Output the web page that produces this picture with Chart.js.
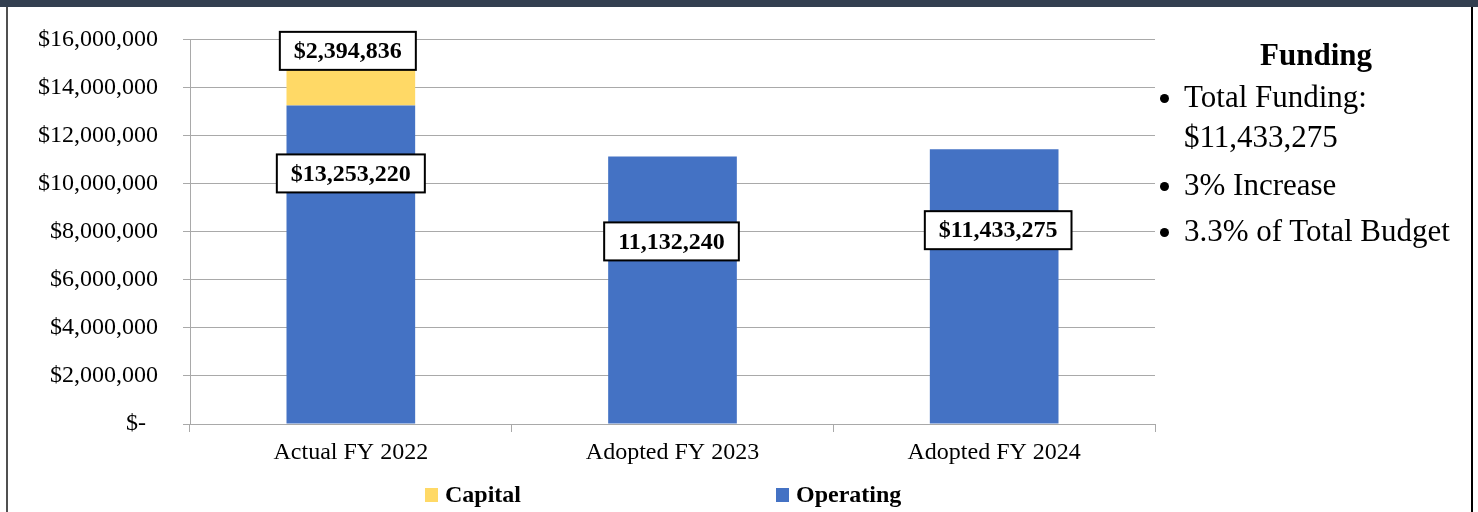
<!DOCTYPE html>
<html>
<head>
<meta charset="utf-8">
<script src="https://cdn.jsdelivr.net/npm/chart.js@4/dist/chart.umd.min.js"></script>
<style>
  html, body { margin: 0; padding: 0; background: #fff; }
  body { width: 1478px; height: 512px; position: relative; overflow: hidden;
         font-family: "Liberation Serif", "Times New Roman", serif; color: #000; }
  #topband { position: absolute; left: 0; top: 0; width: 1478px; height: 7px; background: #333f50; }
  #leftline { position: absolute; left: 6px; top: 7px; width: 2px; height: 505px; background: #505050; }
  #rightline { position: absolute; left: 1471px; top: 7px; width: 2px; height: 505px; background: #000; }
  #wrap { position: absolute; left: 0; top: 0; width: 1478px; height: 512px; }
  .side { position: absolute; font-size: 31px; line-height: 36px; white-space: nowrap; }
  .side b { font-weight: bold; }
  .dot { position: absolute; left: -24px; top: 15px; width: 9px; height: 9px; border-radius: 50%; background: #000; }
  .leg { position: absolute; top: 480px; font-size: 24px; line-height: 28px; font-weight: bold; white-space: nowrap; }
  .leg i { position: absolute; left: -20px; top: 8px; width: 13px; height: 14px; }
</style>
</head>
<body>
<div id="topband"></div>
<div id="leftline"></div>
<div id="rightline"></div>
<div id="wrap"><canvas id="chart"></canvas></div>

<div class="side" style="left:1260px; top:37px;"><b>Funding</b></div>
<div class="side" style="left:1184px; top:79px;"><span class="dot"></span>Total Funding:</div>
<div class="side" style="left:1184px; top:119px;">$11,433,275</div>
<div class="side" style="left:1184px; top:167px;"><span class="dot"></span>3% Increase</div>
<div class="side" style="left:1184px; top:213px;"><span class="dot"></span>3.3% of Total Budget</div>

<div class="leg" style="left:445px;"><i style="background:#ffd966"></i>Capital</div>
<div class="leg" style="left:796px;"><i style="background:#4472c4"></i>Operating</div>

<script>
// categories and values
const categories = ["Actual FY 2022", "Adopted FY 2023", "Adopted FY 2024"];
const operating = [13253220, 11132240, 11433275];
const capital = [2394836, null, null];
const operatingLabels = ["$13,253,220", "11,132,240", "$11,433,275"];
const capitalLabels = ["$2,394,836", null, null];

const gridGray = "#a9a9a9";
const serif = "'Liberation Serif', 'Times New Roman', serif";

// boxed value labels, placed relative to the top of each bar segment
const boxLabels = {
  id: "boxLabels",
  afterDatasetsDraw(chart) {
    const ctx = chart.ctx;
    ctx.save();
    ctx.font = "bold 24px " + serif;
    ctx.textAlign = "center";
    ctx.textBaseline = "middle";
    chart.data.datasets.forEach((ds, di) => {
      const meta = chart.getDatasetMeta(di);
      meta.data.forEach((bar, i) => {
        const txt = ds.boxText[i];
        if (!txt) return;
        const shift = ds.boxShift[i];
        const cx = bar.x + shift[0];
        const cy = bar.y + shift[1];
        const w = ctx.measureText(txt).width + 28;
        const h = 38;
        ctx.fillStyle = "#fff";
        ctx.fillRect(cx - w / 2, cy - h / 2, w, h);
        ctx.lineWidth = 2;
        ctx.strokeStyle = "#000";
        ctx.strokeRect(cx - w / 2, cy - h / 2, w, h);
        ctx.fillStyle = "#000";
        ctx.fillText(txt, cx, cy + 1);
      });
    });
    ctx.restore();
  }
};

new Chart(document.getElementById("chart"), {
  type: "bar",
  data: {
    labels: categories,
    datasets: [
      {
        label: "Operating",
        data: operating,
        backgroundColor: "#4472c4",
        boxText: operatingLabels,
        boxShift: [[0, 68], [-1, 85], [4, 81]]
      },
      {
        label: "Capital",
        data: capital,
        backgroundColor: "#ffd966",
        boxText: capitalLabels,
        boxShift: [[-3, 3], [0, 0], [0, 0]]
      }
    ]
  },
  options: {
    responsive: true,
    maintainAspectRatio: false,
    animation: false,
    categoryPercentage: 1,
    barPercentage: 0.4,
    layout: { padding: { left: 8, right: 323, top: 39, bottom: 0 } },
    plugins: {
      legend: { display: false },
      tooltip: { enabled: false }
    },
    scales: {
      x: {
        stacked: true,
        afterFit: (scale) => { scale.height = 88; },
        grid: { offset: true, drawOnChartArea: false, tickLength: 8, color: gridGray },
        border: { color: gridGray },
        ticks: { color: "#000", padding: 6, font: { family: serif, size: 24 } }
      },
      y: {
        stacked: true,
        min: 0,
        max: 16000000,
        afterFit: (scale) => { scale.width = 182; },
        grid: { color: gridGray, tickLength: 7 },
        border: { color: gridGray },
        ticks: {
          stepSize: 2000000,
          color: "#000",
          padding: 25,
          font: { family: serif, size: 24 },
          callback: (v) => v === 0 ? "$-  " : "$" + v.toLocaleString("en-US")
        }
      }
    }
  },
  plugins: [boxLabels]
});
</script>
</body>
</html>
